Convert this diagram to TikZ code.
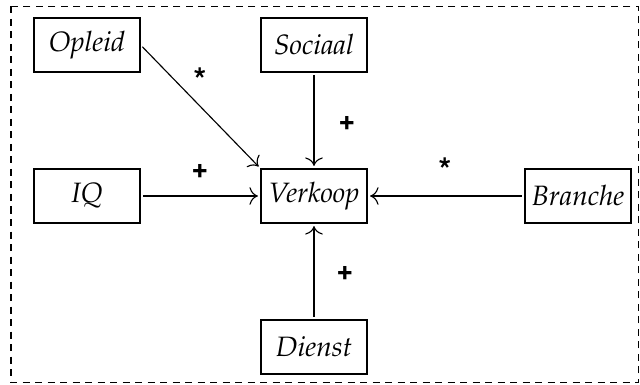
\documentclass[tikz,border=0pt]{standalone}
\usepackage[T1]{fontenc}
\usepackage{mathpazo}
\usetikzlibrary{arrows.meta}
\begin{document}
\begin{tikzpicture}[x=0.4pt,y=-0.4pt,
  box/.style={draw,line width=0.5pt,minimum width=42.4pt,minimum height=21.6pt,inner sep=0pt,font=\fontsize{11.2}{13}\selectfont\itshape},
  link/.style={-{To[scale=1.3]},line width=0.45pt,shorten >=1pt,shorten <=1pt},
  lab/.style={font=\fontsize{11}{13}\usefont{T1}{phv}{b}{n}},
  star/.style={font=\fontsize{13}{15}\usefont{T1}{phv}{b}{n}}]
\useasboundingbox (0,0) rectangle (640,385);
\draw[dash pattern=on 2.8pt off 2.2pt,line width=0.5pt] (11,6.5) rectangle (638.5,382.5);
\node[box] (opleid) at (87,45) {Opleid};
\node[box] (sociaal) at (314,45) {Sociaal};
\node[box] (iq) at (87,196) {IQ};
\node[box] (verkoop) at (314,196) {Verkoop};
\node[box] (branche) at (578,196) {Branche};
\node[box] (dienst) at (314,347) {Dienst};
\draw[link] (opleid.east) -- (verkoop.north west);
\draw[link] (sociaal.south) -- (verkoop.north);
\draw[link] (iq.east) -- (verkoop.west);
\draw[link] (branche.west) -- (verkoop.east);
\draw[link] (dienst.north) -- (verkoop.south);
\node[star] (l1) at (200,80) {*};
\node[lab] (l2) at (347,122) {+};
\node[lab] (l3) at (200,170) {+};
\node[star] (l4) at (445,170) {*};
\node[lab] (l5) at (345,272) {+};
\end{tikzpicture}
\end{document}
